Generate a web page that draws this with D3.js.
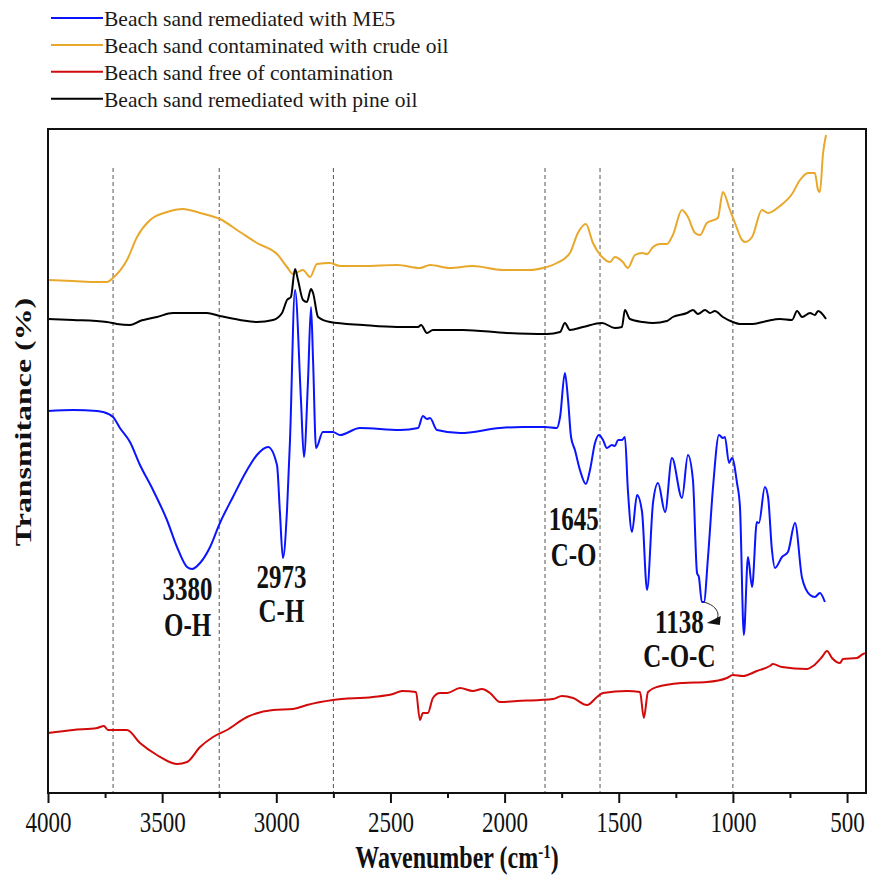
<!DOCTYPE html>
<html>
<head>
<meta charset="utf-8">
<script src="https://cdn.jsdelivr.net/npm/d3@7"></script>
<style>
  body { margin: 0; background: #fff; }
  svg { display: block; }
</style>
</head>
<body>
<svg id="chart" width="875" height="878"></svg>
<script>
// [wavenumber cm-1, transmittance a.u.]
var me5 = [[4000,38.2],[3890,38.3],[3785,38.2],[3759,38.1],[3715,37.6],[3685,36.5],[3641,35.1],[3597,32.8],
  [3540,30.3],[3479,27.3],[3435,24.6],[3391,22.6],[3369,22.4],[3334,23.0],[3290,24.6],[3247,27.0],[3190,29.6],
  [3128,32.3],[3085,33.8],[3036,34.6],[2997,32.8],[2984,28.0],[2971,23.5],[2953,28.3],[2940,35.3],[2918,50.3],
  [2892,39.3],[2879,33.6],[2861,41.3],[2848,48.6],[2839,43.3],[2826,34.5],[2796,36.1],[2752,36.1],[2721,35.8],
  [2634,36.5],[2458,36.3],[2379,36.5],[2358,37.7],[2340,37.4],[2327,37.5],[2296,36.3],[2195,36.0],[2020,36.5],
  [1920,36.6],[1823,36.6],[1771,36.5],[1757,37.6],[1736,42.0],[1722,39.3],[1709,35.6],[1692,34.3],[1670,32.3],
  [1644,30.9],[1626,32.3],[1604,35.0],[1587,35.8],[1569,35.3],[1552,34.5],[1530,34.8],[1517,34.7],[1503,35.3],
  [1486,35.3],[1473,35.6],[1460,30.3],[1442,26.1],[1420,29.8],[1398,28.1],[1376,20.3],[1350,29.0],[1328,31.0],
  [1297,28.1],[1267,33.5],[1223,29.5],[1197,33.8],[1175,31.3],[1157,22.0],[1149,21.6],[1136,19.1],[1127,19.1],
  [1109,23.6],[1087,30.6],[1061,35.8],[1044,35.5],[1035,35.6],[1017,33.0],[1004,33.5],[982,31.0],[969,28.6],
  [952,15.8],[934,23.6],[916,20.6],[895,27.1],[886,27.0],[860,30.6],[846,29.6],[829,24.3],[816,22.5],[785,23.6],
  [759,24.1],[728,27.0],[697,21.5],[662,19.8],[641,19.6],[619,20.0],[597,19.1]];

var crude = [[4000,51.3],[3890,51.2],[3785,51.1],[3742,51.1],[3711,51.6],[3654,53.3],[3610,55.6],[3553,57.3],
  [3479,58.1],[3409,58.4],[3334,58.0],[3247,57.4],[3159,56.1],[3085,55.0],[2993,53.8],[2953,52.6],[2927,51.9],
  [2883,52.3],[2852,51.6],[2822,52.9],[2765,53.0],[2721,52.7],[2620,52.7],[2471,52.8],[2371,52.5],[2327,52.8],
  [2239,52.5],[2139,52.7],[2007,52.3],[1889,52.3],[1832,52.5],[1771,53.0],[1714,54.0],[1679,56.0],[1644,56.9],
  [1613,55.0],[1573,53.6],[1538,53.1],[1517,53.6],[1482,53.1],[1460,52.5],[1429,53.8],[1398,54.0],[1376,53.9],
  [1350,54.6],[1319,54.9],[1289,54.9],[1263,55.8],[1223,58.3],[1197,57.6],[1166,56.0],[1144,55.8],[1114,57.0],
  [1066,57.5],[1044,60.1],[1013,58.3],[991,57.0],[960,55.3],[947,55.1],[916,55.6],[873,58.3],[846,58.0],
  [794,58.7],[741,59.9],[706,61.3],[671,62.0],[641,62.0],[627,60.3],[619,60.1],[605,64.0],[592,65.8]];

var clean = [[4000,6.0],[3890,6.3],[3785,6.5],[3755,6.7],[3737,6.3],[3654,6.3],[3597,5.0],[3523,3.8],[3435,2.9],
  [3391,3.1],[3334,4.6],[3277,5.6],[3216,6.3],[3128,7.6],[3014,8.3],[2927,8.4],[2866,8.8],[2752,9.3],[2577,9.6],
  [2489,9.9],[2449,10.2],[2388,10.1],[2371,7.3],[2358,8.0],[2336,8.0],[2314,9.5],[2283,10.0],[2252,10.0],
  [2195,10.5],[2139,10.2],[2099,10.4],[2064,10.0],[2020,9.1],[1946,9.2],[1845,9.3],[1788,9.4],[1749,9.7],
  [1700,9.5],[1639,8.8],[1595,9.6],[1569,10.0],[1464,10.2],[1407,10.1],[1390,7.5],[1372,10.1],[1333,10.6],
  [1219,11.0],[1114,11.1],[1026,11.5],[1000,11.8],[956,11.7],[895,12.2],[838,12.7],[825,12.9],[785,12.6],
  [676,12.4],[649,12.7],[610,13.6],[588,14.2],[566,13.5],[531,13.0],[518,13.4],[457,13.5],[430,13.9],[417,14.0],
  [405,14.1]];

var pine = [[4000,47.4],[3890,47.3],[3742,47.1],[3698,46.9],[3641,46.8],[3597,47.2],[3523,47.6],[3453,48.0],
  [3304,48.0],[3247,47.7],[3159,47.3],[3085,47.1],[3014,47.3],[2975,48.0],[2953,49.3],[2936,49.6],[2918,52.4],
  [2905,51.3],[2883,49.3],[2866,49.1],[2848,50.4],[2839,50.0],[2817,47.6],[2765,47.1],[2620,46.8],[2471,46.6],
  [2379,46.6],[2366,46.8],[2340,46.0],[2314,46.3],[2182,46.3],[1990,46.0],[1814,45.9],[1757,46.1],[1736,47.0],
  [1714,46.3],[1657,46.6],[1573,47.0],[1517,46.5],[1486,46.6],[1473,48.3],[1451,47.4],[1394,47.1],[1350,47.0],
  [1289,47.2],[1263,47.6],[1201,48.0],[1175,48.3],[1153,47.9],[1122,48.3],[1100,48.0],[1079,48.2],[1044,47.6],
  [1000,47.1],[969,46.9],[912,46.9],[851,47.2],[794,47.4],[741,47.3],[719,48.2],[697,47.6],[662,48.0],
  [641,47.8],[627,48.2],[592,47.4]];

var seriesNames = ['Beach sand remediated with ME5', 'Beach sand contaminated with crude oil',
  'Beach sand free of contamination', 'Beach sand remediated with pine oil'];
var seriesColors = ['#0a14ff', '#e8a82c', '#d20a0a', '#000000'];
var seriesData = [me5, crude, clean, pine];

var majorTicks = [4000, 3500, 3000, 2500, 2000, 1500, 1000, 500];
var minorTicks = [3750, 3250, 2750, 2250, 1750, 1250, 750];
var guideLines = [3715, 3250, 2750, 1823, 1582, 1000];

var peaks = [
  {wn: 3380, label: ['3380', 'O-H'], dx: -2, top: 19.3, gap: 36},
  {wn: 2973, label: ['2973', 'C-H'], dx: -1, top: 20.5, gap: 34},
  {wn: 1645, label: ['1645', 'C-O'], dx: -12, top: 26.3, gap: 36},
  {wn: 1138, label: ['1138', 'C-O-C'], dx: -22, top: 16.0, gap: 34}
];

var serif = "'Liberation Serif', 'DejaVu Serif', serif";

var margin = {top: 129, right: 9, bottom: 85, left: 48};
var width = 875 - margin.left - margin.right;
var height = 878 - margin.top - margin.bottom;

var svg = d3.select('#chart').attr('font-family', serif);
var g = svg.append('g').attr('transform', 'translate(' + margin.left + ',' + margin.top + ')');

var x = d3.scaleLinear().domain([4000, 417]).range([0, width]);
var y = d3.scaleLinear().domain([0, 66.4]).range([height, 0]);

g.append('clipPath').attr('id', 'plotclip')
  .append('rect').attr('width', width).attr('height', height);

// dashed guide lines
g.selectAll('.guide')
  .data(guideLines)
  .enter().append('line')
  .attr('class', 'guide')
  .attr('x1', function(d) { return x(d); })
  .attr('x2', function(d) { return x(d); })
  .attr('y1', y(62.5))
  .attr('y2', height)
  .attr('stroke', '#555')
  .attr('stroke-width', 1)
  .attr('stroke-dasharray', '4,3');

var line = d3.line()
  .x(function(d) { return x(d[0]); })
  .y(function(d) { return y(d[1]); })
  .curve(d3.curveMonotoneX);

// draw order: red, yellow, black, blue on top
[2, 1, 3, 0].forEach(function(i) {
  g.append('path')
    .datum(seriesData[i])
    .attr('clip-path', 'url(#plotclip)')
    .attr('fill', 'none')
    .attr('stroke', seriesColors[i])
    .attr('stroke-width', 2)
    .attr('stroke-linejoin', 'round')
    .attr('d', line);
});

// axes
var axisMajor = g.append('g')
  .attr('transform', 'translate(0,' + height + ')')
  .call(d3.axisBottom(x).tickValues(majorTicks).tickSize(10).tickFormat(d3.format('d')));
var axisMinor = g.append('g')
  .attr('transform', 'translate(0,' + height + ')')
  .call(d3.axisBottom(x).tickValues(minorTicks).tickSize(5).tickFormat(''));

[axisMajor, axisMinor].forEach(function(a) {
  a.attr('font-family', serif).attr('font-size', null);
  a.select('.domain').remove();
  a.selectAll('line').attr('stroke', '#111').attr('stroke-width', 2);
});
axisMajor.selectAll('text')
  .attr('fill', '#111')
  .attr('dy', 0)
  .attr('y', 39 / 1.28)
  .attr('font-size', 23)
  .attr('transform', 'scale(1,1.28)');

// frame
g.append('rect')
  .attr('width', width).attr('height', height)
  .attr('fill', 'none')
  .attr('stroke', '#111')
  .attr('stroke-width', 2);

// axis titles
var xt = svg.append('text')
  .attr('transform', 'translate(' + (margin.left + width / 2) + ',868) scale(1,1.3)')
  .attr('text-anchor', 'middle')
  .attr('font-size', 24)
  .attr('font-weight', 'bold')
  .attr('fill', '#111');
xt.append('tspan').text('Wavenumber (cm');
xt.append('tspan').attr('dy', -8).attr('font-size', 15).text('-1');
xt.append('tspan').attr('dy', 8).text(')');

svg.append('text')
  .attr('transform', 'translate(31,422) rotate(-90) scale(1.33,1)')
  .attr('text-anchor', 'middle')
  .attr('font-size', 24)
  .attr('font-weight', 'bold')
  .attr('fill', '#111')
  .text('Transmitance (%)');

// peak labels
peaks.forEach(function(p) {
  p.label.forEach(function(t, k) {
    g.append('text')
      .attr('transform', 'translate(' + (x(p.wn) + p.dx) + ',' + (y(p.top) + k * p.gap) + ') scale(1,1.33)')
      .attr('text-anchor', 'middle')
      .attr('font-size', 25)
      .attr('font-weight', 'bold')
      .attr('fill', '#111')
      .text(t);
  });
});

// curved pointer for the 1138 band
var px = x(1132), py = y(19.1);
g.append('path')
  .attr('d', 'M' + px + ',' + py + ' C' + (px + 12) + ',' + (py + 2) + ' ' + (px + 18) + ',' + (py + 11) + ' ' + (px + 14) + ',' + (py + 17))
  .attr('fill', 'none')
  .attr('stroke', '#222')
  .attr('stroke-width', 1);
g.append('path')
  .attr('d', 'M' + (px + 4) + ',' + (py + 21) + ' L' + (px + 18) + ',' + (py + 14) + ' L' + (px + 17) + ',' + (py + 23) + ' Z')
  .attr('fill', '#111');

// legend
var legend = svg.append('g').attr('transform', 'translate(51,18)');
var item = legend.selectAll('.legend-item')
  .data(seriesNames)
  .enter().append('g')
  .attr('class', 'legend-item')
  .attr('transform', function(d, i) { return 'translate(0,' + (i * 26.9) + ')'; });
item.append('line')
  .attr('x1', 0).attr('x2', 52)
  .attr('stroke', function(d, i) { return seriesColors[i]; })
  .attr('stroke-width', 2);
item.append('text')
  .attr('x', 53).attr('y', 8)
  .attr('font-size', 21.5)
  .attr('fill', '#1a1a1a')
  .text(function(d) { return d; });
</script>
</body>
</html>
